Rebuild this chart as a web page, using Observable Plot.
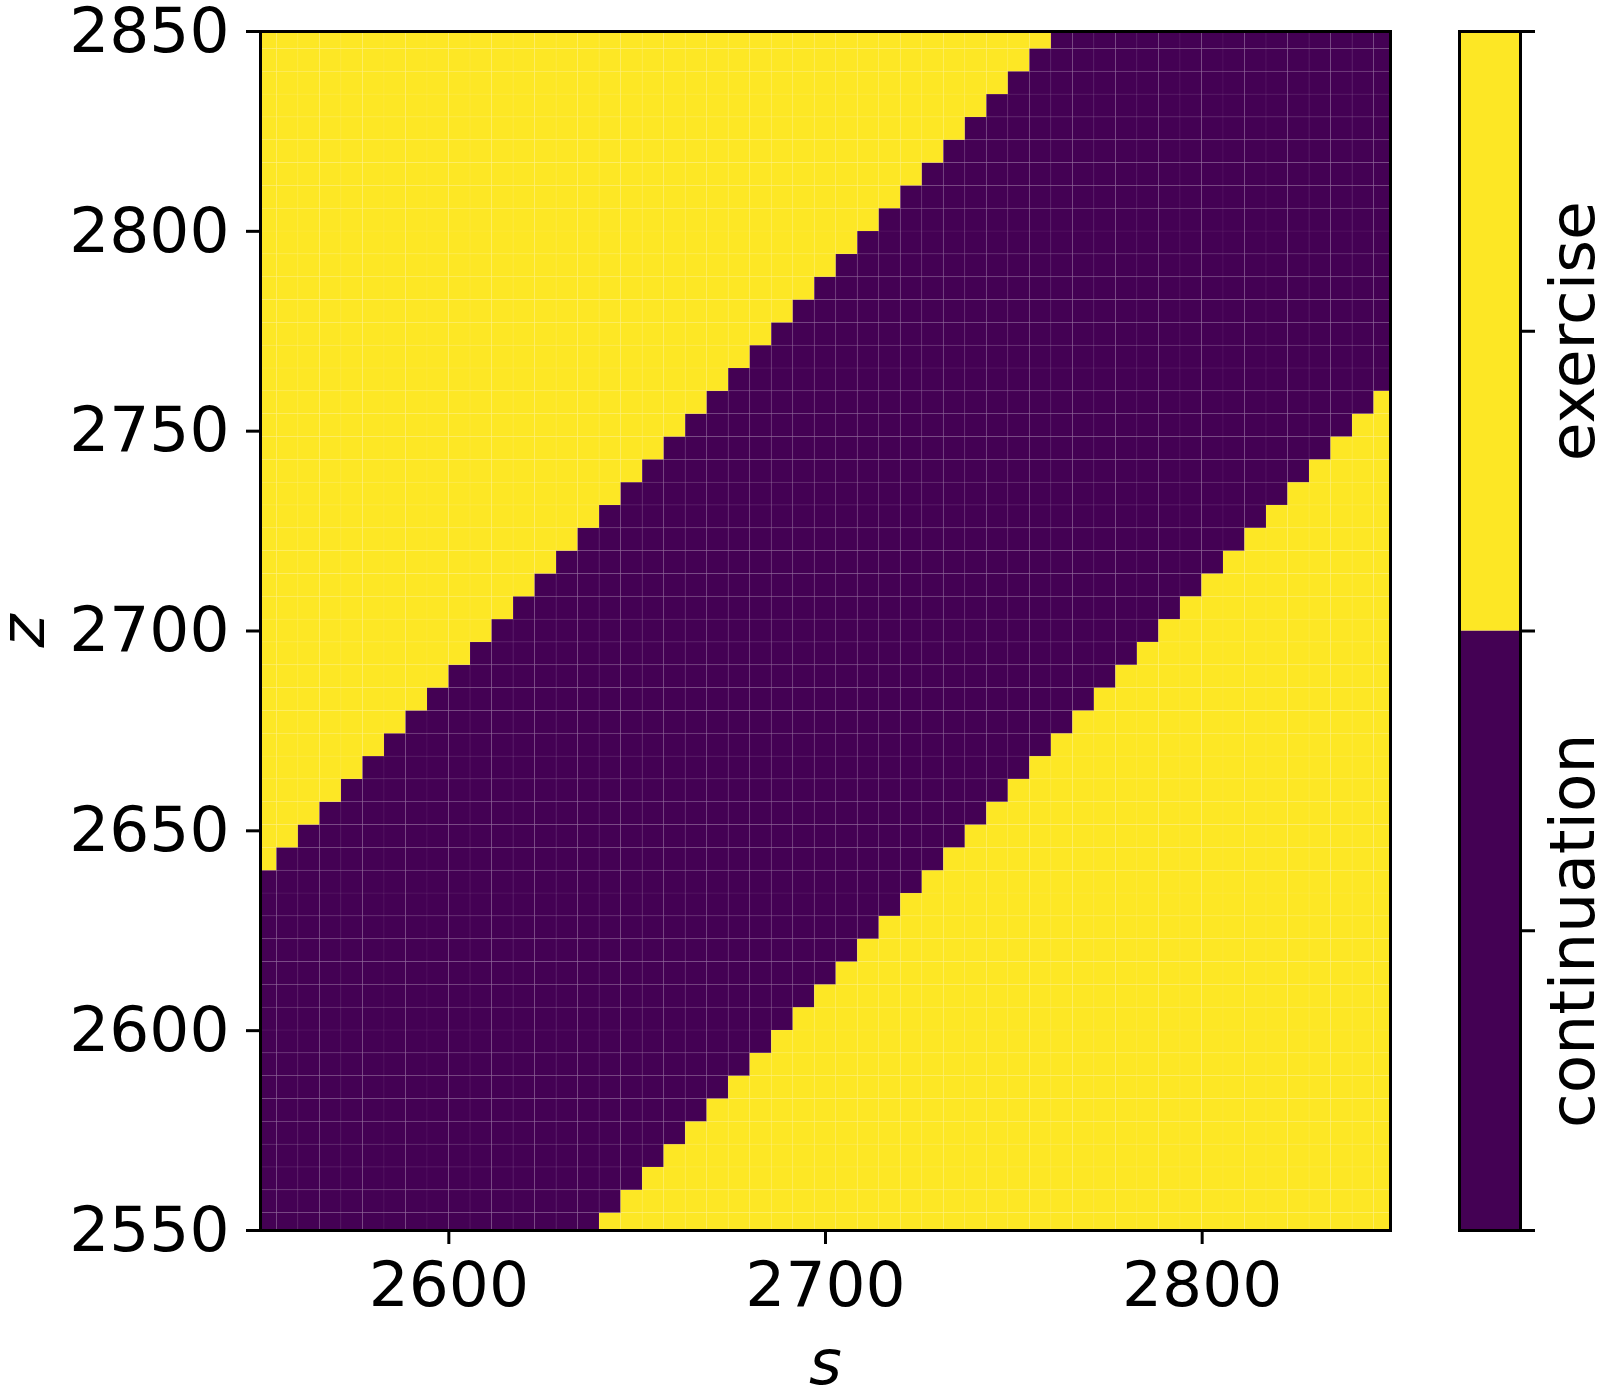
<!DOCTYPE html>
<html>
<head>
<meta charset="utf-8">
<script src="https://cdn.jsdelivr.net/npm/d3@7"></script>
<script src="https://cdn.jsdelivr.net/npm/@observablehq/plot@0.6"></script>
<style>
html, body { margin: 0; padding: 0; background: #ffffff; }
#wrap { position: relative; width: 1600px; height: 1391px; overflow: hidden; }
#main { position: absolute; left: 0; top: 0; }
#cbar { position: absolute; left: 1440px; top: 0; }
</style>
</head>
<body>
<div id="wrap"><div id="main"></div><div id="cbar"></div></div>
<script>
// grid of s values (cell centres), same grid for z
const sGrid = [2551.50, 2557.21, 2562.92, 2568.63, 2574.35, 2580.06, 2585.77, 2591.48, 2597.19, 2602.90,
  2608.62, 2614.33, 2620.04, 2625.75, 2631.46, 2637.17, 2642.88, 2648.60, 2654.31, 2660.02,
  2665.73, 2671.44, 2677.15, 2682.87, 2688.58, 2694.29, 2700.00, 2705.71, 2711.42, 2717.13,
  2722.85, 2728.56, 2734.27, 2739.98, 2745.69, 2751.40, 2757.12, 2762.83, 2768.54, 2774.25,
  2779.96, 2785.67, 2791.38, 2797.10, 2802.81, 2808.52, 2814.23, 2819.94, 2825.65, 2831.37,
  2837.08, 2842.79, 2848.50];
const zGrid = [2551.50, 2557.21, 2562.92, 2568.63, 2574.35, 2580.06, 2585.77, 2591.48, 2597.19, 2602.90,
  2608.62, 2614.33, 2620.04, 2625.75, 2631.46, 2637.17, 2642.88, 2648.60, 2654.31, 2660.02,
  2665.73, 2671.44, 2677.15, 2682.87, 2688.58, 2694.29, 2700.00, 2705.71, 2711.42, 2717.13,
  2722.85, 2728.56, 2734.27, 2739.98, 2745.69, 2751.40, 2757.12, 2762.83, 2768.54, 2774.25,
  2779.96, 2785.67, 2791.38, 2797.10, 2802.81, 2808.52, 2814.23, 2819.94, 2825.65, 2831.37,
  2837.08, 2842.79, 2848.50];

// for each z row (bottom to top): first and last s-index in the continuation region
const continuationFrom = [0, 0, 0, 0, 0, 0, 0, 0, 0, 0, 0, 0, 0, 0, 0, 0,
  1, 2, 3, 4, 5, 6, 7, 8, 9, 10, 11, 12, 13, 14, 15, 16, 17, 18, 19, 20,
  21, 22, 23, 24, 25, 26, 27, 28, 29, 30, 31, 32, 33, 34, 35, 36, 37];
const continuationTo = [15, 16, 17, 18, 19, 20, 21, 22, 23, 24, 25, 26, 27, 28, 29, 30,
  31, 32, 33, 34, 35, 36, 37, 38, 39, 40, 41, 42, 43, 44, 45, 46, 47, 48, 49, 50,
  51, 52, 52, 52, 52, 52, 52, 52, 52, 52, 52, 52, 52, 52, 52, 52, 52];

const classCodes = [0, 1];
const classNames = ["continuation", "exercise"];
const classColors = ["#440154", "#fde725"];

const xDomain = [2550, 2850];
const yDomain = [2550, 2850];
const xTicks = [2600, 2700, 2800];
const yTicks = [2550, 2600, 2650, 2700, 2750, 2800, 2850];
const cbarDomain = [-0.5, 1.5];
const cbarTicks = [-0.5, 0, 0.5, 1, 1.5];
const xLabel = "s";
const yLabel = "z";

function edges(grid) {
  const n = grid.length;
  const lo = [], hi = [];
  for (let i = 0; i < n; i++) {
    lo.push(i === 0 ? grid[0] - (grid[1] - grid[0]) / 2 : (grid[i - 1] + grid[i]) / 2);
    hi.push(i === n - 1 ? grid[n - 1] + (grid[n - 1] - grid[n - 2]) / 2 : (grid[i] + grid[i + 1]) / 2);
  }
  return [lo, hi];
}
const [sLo, sHi] = edges(sGrid);
const [zLo, zHi] = edges(zGrid);

const cells = [];
zGrid.forEach((z, j) => {
  sGrid.forEach((s, i) => {
    const code = (i >= continuationFrom[j] && i <= continuationTo[j]) ? 0 : 1;
    cells.push({s1: sLo[i], s2: sHi[i], z1: zLo[j], z2: zHi[j], code});
  });
});

const colorScale = {type: "ordinal", domain: classCodes, range: classColors};
const baseStyle = {fontFamily: "'DejaVu Sans', sans-serif", fontSize: "63px", color: "black", background: "white", overflow: "visible"};

const main = Plot.plot({
  width: 1420, height: 1391,
  marginLeft: 260, marginRight: 30, marginTop: 31, marginBottom: 161,
  style: baseStyle,
  x: {domain: xDomain},
  y: {domain: yDomain},
  color: colorScale,
  marks: [
    Plot.rect(cells, {x1: "s1", x2: "s2", y1: "z1", y2: "z2", fill: "code", clip: true,
      stroke: "#ffffff", strokeOpacity: 0.05, strokeWidth: 1}),
    Plot.frame({stroke: "black", strokeWidth: 3}),
    Plot.axisX({ticks: xTicks, tickSize: 14, tickPadding: 17, strokeWidth: 3, label: null, tickFormat: d => String(d)}),
    Plot.axisY({ticks: yTicks, tickSize: 14, tickPadding: 17, strokeWidth: 3, label: null, tickFormat: d => String(d)}),
    Plot.text([xLabel], {frameAnchor: "bottom", dy: 153, lineAnchor: "bottom", textAnchor: "middle", fontStyle: "italic"}),
    Plot.text([yLabel], {frameAnchor: "left", dx: -217, rotate: -90, lineAnchor: "bottom", textAnchor: "middle", fontStyle: "italic"})
  ]
});
document.getElementById("main").appendChild(main);

const cbar = Plot.plot({
  width: 160, height: 1391,
  marginLeft: 19, marginRight: 80, marginTop: 31, marginBottom: 161,
  style: baseStyle,
  x: {domain: [0, 1], axis: null},
  y: {domain: cbarDomain, axis: null},
  color: colorScale,
  marks: [
    Plot.rect(classCodes, {x1: 0, x2: 1, y1: d => d - 0.5, y2: d => d + 0.5, fill: d => d}),
    Plot.frame({stroke: "black", strokeWidth: 3}),
    Plot.axisY({anchor: "right", ticks: cbarTicks, tickSize: 14, strokeWidth: 3, label: null, tickFormat: () => ""}),
    Plot.text(classCodes, {y: d => d, frameAnchor: "right", dx: 73, rotate: -90, textAnchor: "middle", lineAnchor: "bottom", text: d => classNames[d]})
  ]
});
document.getElementById("cbar").appendChild(cbar);
</script>
</body>
</html>
